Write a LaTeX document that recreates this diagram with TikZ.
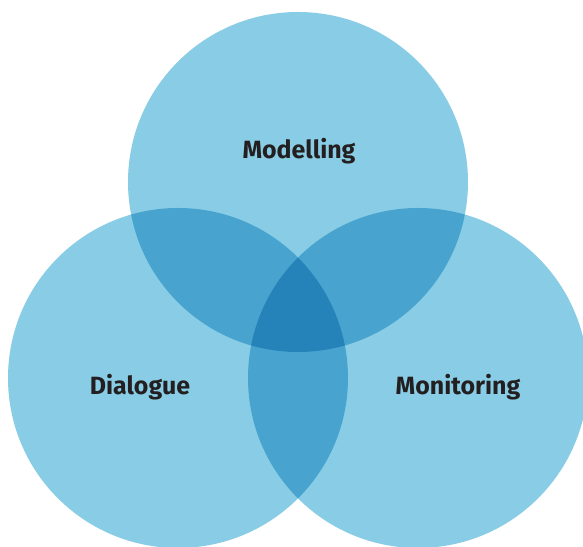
\documentclass[tikz,border=0pt]{standalone}
\usepackage{fontspec}
\setmainfont{Fira Sans}
\usepackage{tikz}
\usetikzlibrary{positioning}

\definecolor{vennlight}{HTML}{88CDE5}
\definecolor{vennmid}{HTML}{48A4CF}
\definecolor{venndark}{HTML}{2683BA}
\definecolor{venntext}{HTML}{231F20}

\begin{document}
\begin{tikzpicture}[x=0.02cm,y=0.02cm,
    label/.style={font=\bfseries\fontsize{14.2}{16}\selectfont,text=venntext,inner sep=0pt}]
      \useasboundingbox (0,0) rectangle (583,547);
      \def\rad{170}

      \coordinate (cm) at (298,365);
      \coordinate (cd) at (178,169);
      \coordinate (cr) at (418,169);

      % the three sets
      \fill[vennlight] (cm) circle (\rad);
      \fill[vennlight] (cd) circle (\rad);
      \fill[vennlight] (cr) circle (\rad);

      % pairwise overlaps
      \begin{scope}
        \clip (cm) circle (\rad);
        \fill[vennmid] (cd) circle (\rad);
        \fill[vennmid] (cr) circle (\rad);
      \end{scope}
      \begin{scope}
        \clip (cd) circle (\rad);
        \fill[vennmid] (cr) circle (\rad);
      \end{scope}

      % all three
      \begin{scope}
        \clip (cm) circle (\rad);
        \clip (cd) circle (\rad);
        \fill[venndark] (cr) circle (\rad);
      \end{scope}

      \node[label] (model) at (299,396) {Modelling};
      \node[label] (dial)  at (140,160) {Dialogue};
      \node[label] (moni)  at (458,160) {Monitoring};

    \end{tikzpicture}
\end{document}
